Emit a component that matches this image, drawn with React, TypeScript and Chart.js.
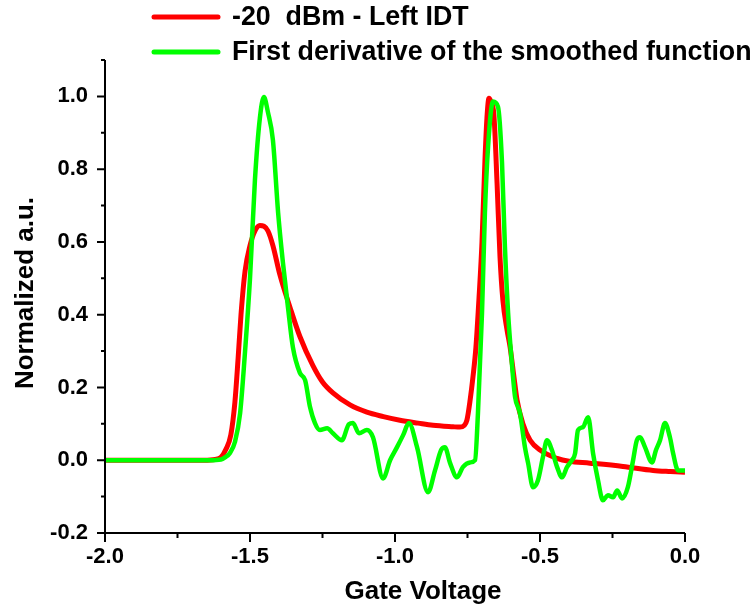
import { useEffect, useRef } from 'react';
import { Chart, registerables } from 'chart.js';

Chart.register(...registerables);

// ---------------- data ----------------
const SERIES_NAMES = ['-20  dBm - Left IDT', 'First derivative of the smoothed function'];
const X_TITLE = 'Gate Voltage';
const Y_TITLE = 'Normalized a.u.';

const X_TICKS = [-2.0, -1.5, -1.0, -0.5, 0.0];
const X_MINOR = [-1.75, -1.25, -0.75, -0.25];
const Y_TICKS = [-0.2, 0.0, 0.2, 0.4, 0.6, 0.8, 1.0];
const Y_MINOR = [-0.1, 0.1, 0.3, 0.5, 0.7, 0.9, 1.1];

const RED_X = [
  -2.0, -1.8, -1.66, -1.62, -1.6, -1.583, -1.566, -1.552, -1.541, -1.531, -1.517, -1.5, -1.483,
  -1.466, -1.452, -1.438, -1.421, -1.397, -1.362, -1.328, -1.283, -1.25, -1.214, -1.155, -1.097,
  -1.04, -0.983, -0.92, -0.869, -0.8, -0.776, -0.762, -0.752, -0.741, -0.731, -0.721, -0.71, -0.7,
  -0.69, -0.683, -0.676, -0.669, -0.659, -0.648, -0.638, -0.628, -0.614, -0.603, -0.59, -0.579,
  -0.559, -0.534, -0.5, -0.441, -0.4, -0.328, -0.214, -0.11, -0.05, 0.0,
];
const RED_Y = [
  0, 0, 0, 0.002, 0.008, 0.03, 0.07, 0.16, 0.28, 0.4, 0.52, 0.59, 0.63,
  0.645, 0.643, 0.63, 0.59, 0.51, 0.42, 0.34, 0.26, 0.215, 0.185, 0.152, 0.132,
  0.12, 0.11, 0.102, 0.096, 0.092, 0.091, 0.095, 0.11, 0.165, 0.23, 0.31, 0.45, 0.6,
  0.82, 0.94, 0.995, 0.985, 0.95, 0.76, 0.56, 0.44, 0.36, 0.31, 0.23, 0.165,
  0.1, 0.055, 0.028, 0.005, -0.003, -0.008, -0.017, -0.028, -0.031, -0.033,
];

const GREEN_X = [
  -2.0, -1.8, -1.64, -1.6, -1.586, -1.569, -1.552, -1.534, -1.517, -1.5, -1.483, -1.466, -1.452,
  -1.438, -1.421, -1.403, -1.386, -1.369, -1.352, -1.328, -1.31, -1.293, -1.276, -1.259, -1.234,
  -1.214, -1.183, -1.159, -1.145, -1.124, -1.097, -1.076, -1.041, -1.017, -0.993, -0.972, -0.952,
  -0.924, -0.886, -0.862, -0.841, -0.828, -0.81, -0.786, -0.766, -0.741, -0.724, -0.714, -0.7,
  -0.69, -0.679, -0.662, -0.645, -0.631, -0.621, -0.61, -0.597, -0.586, -0.569, -0.552, -0.541,
  -0.524, -0.507, -0.49, -0.476, -0.459, -0.441, -0.424, -0.407, -0.39, -0.379, -0.369, -0.352,
  -0.334, -0.317, -0.3, -0.283, -0.266, -0.248, -0.234, -0.217, -0.197, -0.179, -0.166, -0.155,
  -0.138, -0.114, -0.1, -0.086, -0.069, -0.052, -0.041, -0.024, 0.0,
];
const GREEN_Y = [
  0, 0, 0, 0.002, 0.008, 0.02, 0.05, 0.13, 0.3, 0.5, 0.77, 0.94, 0.998,
  0.956, 0.88, 0.68, 0.54, 0.42, 0.31, 0.24, 0.22, 0.146, 0.102, 0.083, 0.088,
  0.074, 0.055, 0.099, 0.102, 0.074, 0.083, 0.063, -0.05, 0.0, 0.036, 0.069, 0.102,
  0.036, -0.088, -0.028, 0.028, 0.036, -0.008, -0.047, -0.019, -0.006, 0.0, 0.129, 0.405,
  0.68, 0.862, 0.986, 0.972, 0.818, 0.587, 0.405, 0.267, 0.174, 0.129, 0.036, -0.008,
  -0.074, -0.055, 0.008, 0.055, 0.028, -0.019, -0.047, -0.019, 0.0, 0.019, 0.083, 0.091,
  0.118, 0.019, -0.055, -0.11, -0.096, -0.102, -0.083, -0.105, -0.074, 0.0, 0.055, 0.063,
  0.036, -0.006, 0.028, 0.055, 0.102, 0.063, 0.019, -0.028, -0.028,
];

const RED = '#ff0000';
const GREEN = '#00ff00';
const FONT = '"Liberation Sans", Arial, Helvetica, sans-serif';

// ---------------- decorations (axes, ticks, titles, legend) ----------------
const decor = {
  id: 'decor',
  afterDraw(chart: any) {
    const { ctx, chartArea: a, scales } = chart;
    const xs = scales.x;
    const ys = scales.y;
    ctx.save();
    ctx.strokeStyle = '#000';
    ctx.lineWidth = 2;
    ctx.lineCap = 'butt';
    // axis lines
    ctx.beginPath();
    ctx.moveTo(a.left, a.top);
    ctx.lineTo(a.left, a.bottom);
    ctx.lineTo(a.right, a.bottom);
    ctx.stroke();
    // ticks
    ctx.beginPath();
    X_TICKS.forEach((v) => {
      const px = xs.getPixelForValue(v);
      ctx.moveTo(px, a.bottom);
      ctx.lineTo(px, a.bottom + 9);
    });
    X_MINOR.forEach((v) => {
      const px = xs.getPixelForValue(v);
      ctx.moveTo(px, a.bottom);
      ctx.lineTo(px, a.bottom + 5);
    });
    Y_TICKS.forEach((v) => {
      const py = ys.getPixelForValue(v);
      ctx.moveTo(a.left, py);
      ctx.lineTo(a.left - 8, py);
    });
    Y_MINOR.forEach((v) => {
      const py = ys.getPixelForValue(v);
      ctx.moveTo(a.left, py);
      ctx.lineTo(a.left - 4, py);
    });
    ctx.stroke();

    // axis titles
    ctx.fillStyle = '#000';
    ctx.font = `bold 26px ${FONT}`;
    ctx.textAlign = 'center';
    ctx.textBaseline = 'alphabetic';
    ctx.fillText(X_TITLE, 423, 599);
    ctx.save();
    ctx.translate(33, 293);
    ctx.rotate(-Math.PI / 2);
    ctx.fillText(Y_TITLE, 0, 0);
    ctx.restore();

    // legend
    const colors = [RED, GREEN];
    const rows = [17, 52];
    ctx.font = `bold 26.8px ${FONT}`;
    ctx.lineCap = 'round';
    ctx.lineWidth = 5;
    ctx.textAlign = 'left';
    ctx.textBaseline = 'middle';
    SERIES_NAMES.forEach((name, i) => {
      ctx.strokeStyle = colors[i];
      ctx.beginPath();
      ctx.moveTo(154, rows[i]);
      ctx.lineTo(218, rows[i]);
      ctx.stroke();
      ctx.fillText(name, 232, rows[i] + 1);
    });
    ctx.restore();
  },
};

export default function App() {
  const ref = useRef<HTMLCanvasElement | null>(null);

  useEffect(() => {
    if (!ref.current) return;
    const chart = new Chart(ref.current, {
      type: 'line',
      data: {
        datasets: [
          {
            label: SERIES_NAMES[0],
            data: RED_X.map((x, i) => ({ x, y: RED_Y[i] })),
            borderColor: RED,
            backgroundColor: RED,
            borderWidth: 5,
            pointRadius: 0,
            fill: false,
            cubicInterpolationMode: 'monotone',
            order: 1,
          },
          {
            label: SERIES_NAMES[1],
            data: GREEN_X.map((x, i) => ({ x, y: GREEN_Y[i] })),
            borderColor: GREEN,
            backgroundColor: GREEN,
            borderWidth: 4.5,
            pointRadius: 0,
            fill: false,
            cubicInterpolationMode: 'monotone',
            order: 0,
          },
        ],
      },
      options: {
        responsive: false,
        animation: false,
        layout: { padding: { top: 60, right: 69, left: 0, bottom: 0 } },
        plugins: { legend: { display: false }, tooltip: { enabled: false } },
        scales: {
          x: {
            type: 'linear',
            min: -2,
            max: 0,
            afterBuildTicks: (s: any) => {
              s.ticks = X_TICKS.map((v) => ({ value: v }));
            },
            afterFit: (s: any) => {
              s.height = 71;
            },
            grid: { display: false },
            border: { display: false },
            ticks: {
              padding: 3,
              color: '#000',
              maxRotation: 0,
              autoSkip: false,
              font: { family: FONT, size: 22, weight: 'bold' },
              callback: (v: any) => Number(v).toFixed(1),
            },
          },
          y: {
            type: 'linear',
            min: -0.2,
            max: 1.1,
            afterBuildTicks: (s: any) => {
              s.ticks = Y_TICKS.map((v) => ({ value: v }));
            },
            afterFit: (s: any) => {
              s.width = 105;
            },
            grid: { display: false },
            border: { display: false },
            ticks: {
              padding: 9,
              color: '#000',
              autoSkip: false,
              font: { family: FONT, size: 22, weight: 'bold' },
              callback: (v: any) => Number(v).toFixed(1),
            },
          },
        },
      },
      plugins: [decor],
    } as any);
    return () => chart.destroy();
  }, []);

  return (
    <div style={{ position: 'fixed', left: 0, top: 0, width: 754, height: 604, background: '#fff' }}>
      <canvas ref={ref} width={754} height={604} style={{ display: 'block' }} />
    </div>
  );
}
